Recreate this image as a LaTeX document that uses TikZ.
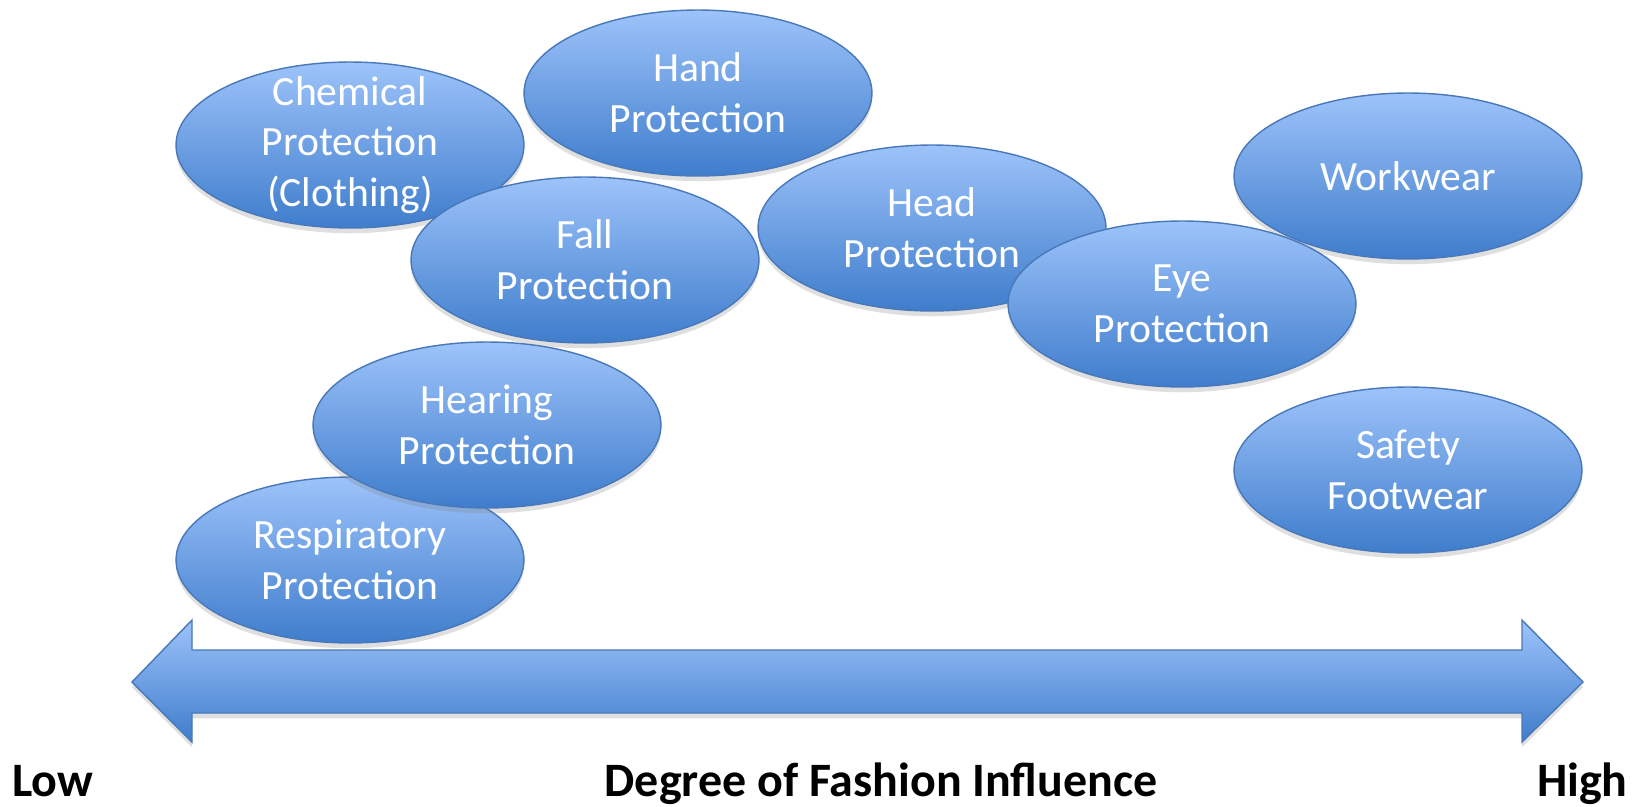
\documentclass[tikz,border=0pt]{standalone}
\usepackage{fontspec}
\setmainfont{Carlito}
\usetikzlibrary{shapes.geometric,shadows}
\definecolor{ppetop}{RGB}{157,195,250}
\definecolor{ppebot}{RGB}{63,125,204}
\definecolor{ppeline}{RGB}{72,120,185}
\tikzset{
  ppetext/.style={text=white,align=center,inner sep=0pt,font=\fontsize{23.7}{28.9}\selectfont},
  ppe/.style={ellipse,minimum width=6.96cm,minimum height=3.32cm,inner sep=0pt,
    draw=ppeline,line width=0.8pt,top color=ppetop,bottom color=ppebot,
    drop shadow={shadow xshift=0pt,shadow yshift=-3pt,opacity=0.25},
    label={[ppetext]center:#1}},
  axislabel/.style={inner sep=0pt,font=\bfseries\fontsize{27.3}{32}\selectfont}
}
\begin{document}
\begin{tikzpicture}[x=0.02cm,y=-0.02cm]
\useasboundingbox (0,0) rectangle (1641,806);
\node[ppe={Chemical\\Protection\\(Clothing)}] (chem) at (350,145) {};
\node[ppe={Hand\\Protection}] (hand) at (698,93) {};
\node[ppe={Fall\\Protection}] (fall) at (585,260) {};
\node[ppe={Head\\Protection}] (head) at (932,228) {};
\node[ppe={Workwear}] (work) at (1408,176) {};
\node[ppe={Eye\\Protection}] (eye) at (1182,304) {};
\node[ppe={Respiratory\\Protection}] (resp) at (350,560) {};
\node[ppe={Hearing\\Protection}] (hear) at (487,425) {};
\node[ppe={Safety\\Footwear}] (foot) at (1408,470) {};
% double arrow
\path[draw=ppeline,line width=0.8pt,top color=ppetop,bottom color=ppebot,
  drop shadow={shadow xshift=0pt,shadow yshift=-3pt,opacity=0.25}]
  (132,682) -- (192,620) -- (192,650) -- (1522,650) -- (1522,620) -- (1583,682)
  -- (1522,742) -- (1522,713) -- (192,713) -- (192,742) -- cycle;
\node[axislabel,anchor=base west] (low) at (12,796) {Low};
\node[axislabel,anchor=base] (degree) at (881,796) {Degree of Fashion Influence};
\node[axislabel,anchor=base east] (high) at (1628,796) {High};
\end{tikzpicture}
\end{document}
